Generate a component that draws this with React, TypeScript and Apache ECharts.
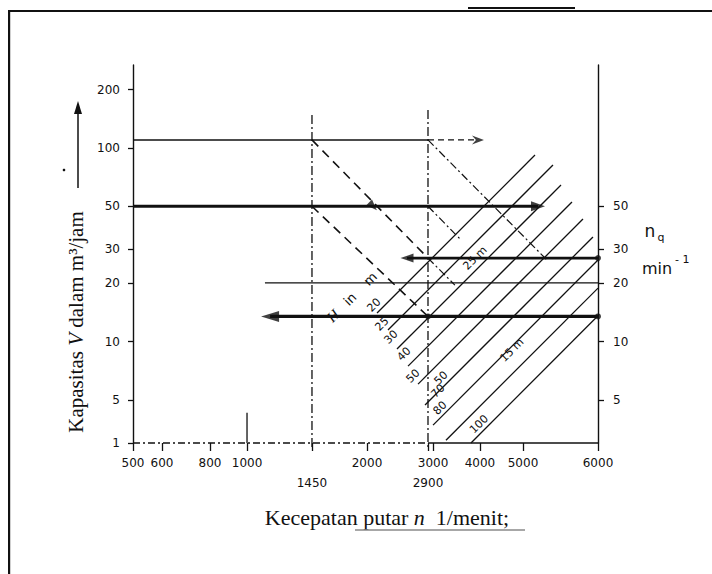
import { useEffect, useRef } from 'react';
import * as echarts from 'echarts';

// ---- axis scales (nomogram) ----
const xTickRpm = [500, 600, 800, 1000, 1450, 2000, 2900, 3000, 4000, 5000, 6000];
const xTickPos = [0, 0.0624, 0.1656, 0.2452, 0.3849, 0.5032, 0.6344, 0.6452, 0.7462, 0.8387, 1];
const xTickLabels = ['500', '600', '800', '1000', '1450', '2000', '2900', '3000', '4000', '5000', '6000'];
const xLowerRow = ['1450', '2900'];
const yTickV = [3, 5, 10, 20, 30, 50, 100, 200];
const yTickLabels = ['1', '5', '10', '20', '30', '50', '100', '200'];
const nqTickV = [5, 10, 20, 30, 50];
const nqTickLabels = ['5', '10', '20', '30', '50'];
const vMin = 3;
const vMax = 268;

// ---- horizontal capacity lines (V in m3/h, rpm range) ----
const flowV = [110, 50, 27, 20.1, 13.5];
const flowFrom = [500, 500, 2552, 1108, 1141];
const flowTo = [2900, 5186, 6000, 6000, 6000];
const flow110Continue = [2900, 3900];

// ---- vertical speed lines ----
const speedRpm = [1450, 2900];
const speedTopV = [148, 157];
const ref1000 = [1000, 4.3];

// ---- head lines H (solid diagonals): start [rpm, V] -> end [rpm, V] ----
const headStart = [
  [2126, 14.05], [2273, 11.5], [2401, 9.16], [2568, 7.48], [2729, 6.04],
  [2848, 4.71], [3000, 3.71], [3248, 3.1], [3786, 3.0],
];
const headEnd = [
  [5148, 91.9], [5378, 81.6], [5484, 64.4], [5632, 52.6], [5785, 43.0],
  [5927, 34.7], [6000, 26.4], [6000, 18.9], [6000, 13.6],
];

// ---- construction lines (dashed / dash-dot) ----
const affinityLines = [
  [[1450, 110], [2900, 27]],
  [[1450, 50], [2900, 13.5]],
];
const dashDotLines = [
  [[2900, 110], [5300, 26.4]],
  [[2900, 50], [3540, 33.9]],
  [[2900, 27], [3430, 19.6]],
];

// ---- labels along head lines ----
const headLabels = ['20', '25', '30', '40', '50', '50', '70', '80', '100', '15 m', '25 m'];
const headLabelRpm = [2087, 2191, 2315, 2506, 2647, 3150, 3093, 3131, 3976, 4722, 3880];
const headLabelV = [15.46, 12.33, 10.56, 8.63, 6.65, 6.49, 5.56, 4.54, 3.75, 9.05, 27.0];
const hLabelPoint = [1832, 17.0];

// ---- arrow heads and dots on the lines ----
const arrowRpm = [5186, 2552, 1141, 2075];
const arrowV = [50, 27, 13.5, 50];
const openArrow = [3951, 110];
const dotPoints = [[6000, 27], [6000, 13.5], [2900, 13.5]];

function rpmToPos(r: number): number {
  const n = xTickRpm.length;
  for (let i = 0; i < n - 1; i++) {
    const a = xTickRpm[i];
    const b = xTickRpm[i + 1];
    if (r <= b || i === n - 2) {
      const t = Math.log(r / a) / Math.log(b / a);
      return xTickPos[i] + t * (xTickPos[i + 1] - xTickPos[i]);
    }
  }
  return 0;
}
const P = (r: number, v: number) => [rpmToPos(r), Math.log10(v)];
const nearest = (arr: number[], v: number) => {
  let bi = 0;
  let bd = Infinity;
  arr.forEach((a, i) => {
    const d = Math.abs(a - v);
    if (d < bd) { bd = d; bi = i; }
  });
  return bi;
};

const INK = '#111111';
const TICK_FONT = 'DejaVu Sans';
const SERIF = 'Liberation Serif';

function baseGraphic(): any[] {
  return [
    // scan frame
    { id: 'frameTop', type: 'rect', shape: { x: 8, y: 10, width: 704, height: 2 }, style: { fill: INK } },
    { id: 'frameLeft', type: 'rect', shape: { x: 8, y: 10, width: 2.2, height: 564 }, style: { fill: INK } },
    { id: 'frameBump', type: 'rect', shape: { x: 468, y: 7, width: 107, height: 2 }, style: { fill: INK } },
    // y title
    {
      id: 'ytitle',
      type: 'text',
      x: 76,
      y: 322,
      rotation: Math.PI / 2,
      style: {
        text: '{a|Kapasitas }{i|V}{a| dalam m³/jam}',
        align: 'center',
        verticalAlign: 'middle',
        rich: {
          a: { fontFamily: SERIF, fontSize: 21, fill: INK },
          i: { fontFamily: SERIF, fontStyle: 'italic', fontSize: 21, fill: INK },
        },
      },
    },
    { id: 'yarrL', type: 'line', shape: { x1: 78, y1: 188, x2: 78, y2: 110 }, style: { stroke: INK, lineWidth: 1.5 } },
    { id: 'yarrH', type: 'polygon', shape: { points: [[78, 101], [74, 114], [82, 114]] }, style: { fill: INK } },
    { id: 'ydot', type: 'circle', shape: { cx: 64, cy: 170, r: 1.3 }, style: { fill: INK } },
    // x title
    {
      id: 'xtitle',
      type: 'text',
      x: 387,
      y: 517,
      style: {
        text: '{a|Kecepatan putar }{i|n}{a|  1/menit;}',
        align: 'center',
        verticalAlign: 'middle',
        rich: {
          a: { fontFamily: SERIF, fontSize: 22, fill: INK },
          i: { fontFamily: SERIF, fontStyle: 'italic', fontSize: 22, fill: INK },
        },
      },
    },
    { id: 'xunder', type: 'line', shape: { x1: 355, y1: 530, x2: 525, y2: 530 }, style: { stroke: '#8a8a8a', lineWidth: 1.6 } },
    // n_q label
    { id: 'nq1', type: 'text', x: 650, y: 231, style: { text: 'n', fontFamily: TICK_FONT, fontSize: 17, fill: INK, align: 'center', verticalAlign: 'middle' } },
    { id: 'nq2', type: 'text', x: 661, y: 237, style: { text: 'q', fontFamily: TICK_FONT, fontSize: 11, fill: INK, align: 'center', verticalAlign: 'middle' } },
    { id: 'nq3', type: 'text', x: 642, y: 268, style: { text: 'min', fontFamily: TICK_FONT, fontSize: 16, fill: INK, align: 'left', verticalAlign: 'middle' } },
    { id: 'nq4', type: 'text', x: 675, y: 259, style: { text: '- 1', fontFamily: TICK_FONT, fontSize: 11, fill: INK, align: 'left', verticalAlign: 'middle' } },
  ];
}

function buildOption() {
  const series: any[] = [];
  const seg = (pts: number[][], style: any, z = 2) =>
    series.push({
      type: 'line',
      data: pts.map((p) => P(p[0], p[1])),
      symbol: 'none',
      silent: true,
      clip: false,
      z,
      lineStyle: { color: INK, width: 1.2, ...style },
    });

  // bottom axis line: dash-dot left part, solid right part
  seg([[500, vMin], [2900, vMin]], { type: [7, 3, 2, 3], width: 1.3 });
  seg([[2900, vMin], [6000, vMin]], { width: 1.5 });

  // vertical speed lines
  speedRpm.forEach((r, i) => seg([[r, speedTopV[i]], [r, 2.85]], { type: [9, 3, 2, 3], width: 1.3 }));
  seg([[ref1000[0], ref1000[1]], [ref1000[0], vMin]], { width: 1.3 });

  // horizontal flow lines
  const flowWidth = [1.6, 3, 2.6, 1.2, 3.2];
  flowV.forEach((v, i) => seg([[flowFrom[i], v], [flowTo[i], v]], { width: flowWidth[i] }, 4));
  seg([[flow110Continue[0], 110], [flow110Continue[1], 110]], { width: 1.2, type: [6, 4] }, 4);

  // head lines
  headStart.forEach((s, i) => seg([s, headEnd[i]], { width: 1.3 }, 3));

  // affinity (dashed) and dash-dot construction lines
  affinityLines.forEach((l) => seg(l, { width: 1.6, type: [9, 6] }));
  dashDotLines.forEach((l) => seg(l, { width: 1.2, type: [8, 3, 2, 3] }));

  // arrow heads
  const arrowRot = [-90, 90, 90, -135];
  const arrowSize = [[10, 14], [9, 13], [11, 18], [8, 11]];
  series.push({
    type: 'scatter',
    silent: true,
    z: 6,
    data: arrowRpm.map((r, i) => ({
      value: P(r, arrowV[i]),
      symbol: 'triangle',
      symbolRotate: arrowRot[i],
      symbolSize: arrowSize[i],
    })),
    itemStyle: { color: INK },
  });
  series.push({
    type: 'scatter',
    silent: true,
    z: 6,
    data: [{ value: P(openArrow[0], openArrow[1]) }],
    symbol: 'path://M0,0 L12,5 L0,10 L4,5 Z',
    symbolSize: [12, 9],
    itemStyle: { color: INK },
  });
  series.push({
    type: 'scatter',
    silent: true,
    z: 6,
    data: dotPoints.map((p) => P(p[0], p[1])),
    symbol: 'circle',
    symbolSize: 6,
    itemStyle: { color: INK },
  });

  const yCustom = yTickV.map((v) => Math.log10(v));
  const nqCustom = nqTickV.map((v) => Math.log10(v));

  return {
    animation: false,
    backgroundColor: '#ffffff',
    grid: { left: 133, right: 114, top: 65, bottom: 131, containLabel: false },
    xAxis: {
      type: 'value',
      min: 0,
      max: 1,
      axisLine: { show: false },
      splitLine: { show: false },
      axisTick: {
        show: true,
        customValues: xTickPos,
        length: 8,
        lineStyle: { color: INK, width: 1.3 },
      },
      axisLabel: {
        show: true,
        customValues: xTickPos,
        margin: 10,
        lineHeight: 20,
        color: INK,
        fontFamily: TICK_FONT,
        fontSize: 12,
        formatter: (v: number) => {
          const s = xTickLabels[nearest(xTickPos, v)];
          return xLowerRow.includes(s) ? '\n' + s : s;
        },
      },
    },
    yAxis: [
      {
        type: 'value',
        position: 'left',
        min: Math.log10(vMin),
        max: Math.log10(vMax),
        splitLine: { show: false },
        axisLine: { show: true, lineStyle: { color: INK, width: 1.4 } },
        axisTick: { show: true, customValues: yCustom, length: 5, lineStyle: { color: INK, width: 1.3 } },
        axisLabel: {
          show: true,
          customValues: yCustom,
          margin: 13,
          color: INK,
          fontFamily: TICK_FONT,
          fontSize: 12,
          formatter: (v: number) => yTickLabels[nearest(yCustom, v)],
        },
      },
      {
        type: 'value',
        position: 'right',
        min: Math.log10(vMin),
        max: Math.log10(vMax),
        splitLine: { show: false },
        axisLine: { show: true, lineStyle: { color: INK, width: 1.4 } },
        axisTick: { show: true, customValues: nqCustom, length: 6, lineStyle: { color: INK, width: 1.3 } },
        axisLabel: {
          show: true,
          customValues: nqCustom,
          margin: 15,
          color: INK,
          fontFamily: TICK_FONT,
          fontSize: 12,
          formatter: (v: number) => nqTickLabels[nearest(nqCustom, v)],
        },
      },
    ],
    graphic: baseGraphic(),
    series,
  };
}

export default function App() {
  const ref = useRef<HTMLDivElement>(null);
  useEffect(() => {
    if (!ref.current) return;
    const chart = echarts.init(ref.current, undefined, { renderer: 'svg' });
    chart.setOption(buildOption() as any);
    // labels along the head lines, placed through the chart's own scales
    const lineLabels: any[] = headLabels.map((t, i) => {
      const px = chart.convertToPixel({ gridIndex: 0 }, P(headLabelRpm[i], headLabelV[i])) as number[];
      return {
        id: 'hl' + i,
        type: 'text',
        x: px[0],
        y: px[1],
        rotation: Math.PI / 4,
        z: 20,
        style: { text: t, fontFamily: TICK_FONT, fontSize: 11, fill: INK, align: 'center', verticalAlign: 'middle' },
      };
    });
    const hp = chart.convertToPixel({ gridIndex: 0 }, P(hLabelPoint[0], hLabelPoint[1])) as number[];
    lineLabels.push({
      id: 'hinm',
      type: 'text',
      x: hp[0],
      y: hp[1],
      rotation: Math.PI / 4,
      z: 20,
      style: {
        text: '{i|H}{a|   in    m}',
        align: 'center',
        verticalAlign: 'middle',
        rich: {
          i: { fontFamily: SERIF, fontStyle: 'italic', fontSize: 15, fill: INK },
          a: { fontFamily: TICK_FONT, fontSize: 13, fill: INK },
        },
      },
    });
    chart.setOption({ graphic: [...baseGraphic(), ...lineLabels] } as any);
    return () => chart.dispose();
  }, []);
  return (
    <div
      ref={ref}
      style={{ position: 'fixed', left: 0, top: 0, width: 712, height: 574, background: '#fff' }}
    />
  );
}
